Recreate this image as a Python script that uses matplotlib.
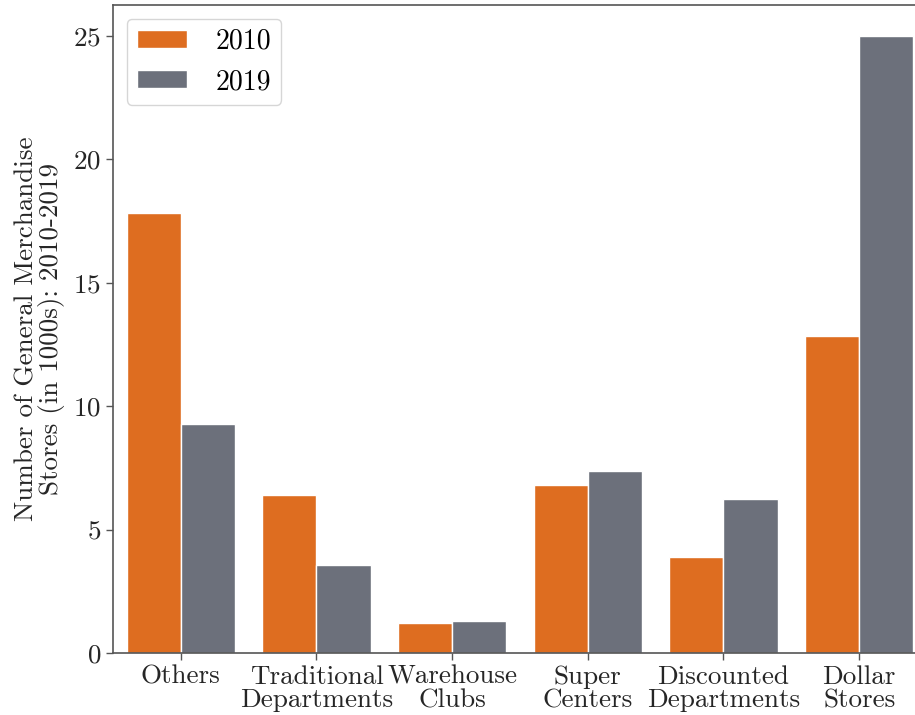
import matplotlib
matplotlib.use("Agg")
import matplotlib.pyplot as plt
import numpy as np

# general merchandise store counts (in 1000s)
categories = ["Others", "Traditional\nDepartments", "Warehouse\nClubs",
              "Super\nCenters", "Discounted\nDepartments", "Dollar\nStores"]
stores_2010 = [17.83, 6.40, 1.22, 6.81, 3.89, 12.84]
stores_2019 = [9.28, 3.57, 1.30, 7.37, 6.24, 25.0]
years = ["2010", "2019"]

plt.rcParams['font.family'] = 'cmr10'
plt.rcParams['axes.formatter.use_mathtext'] = True
plt.rcParams['font.size'] = 20

fig = plt.figure(figsize=(9.15, 7.15), dpi=100)
ax = fig.add_axes([0.1235, 0.0867, 0.8896, 0.9063])

x = np.arange(len(categories))
w = 0.4
ax.bar(x - w / 2, stores_2010, w, color='#de6d20', edgecolor='white',
       linewidth=1, label=years[0])
ax.bar(x + w / 2, stores_2019, w, color='#6c707b', edgecolor='white',
       linewidth=1, label=years[1])

ax.set_xlim(-0.5, 5.5)
ax.set_ylim(0, 26.25)
ax.set_xticks(x)
ax.set_xticklabels(categories, fontsize=19.5, color='#262626', linespacing=1.0)
ax.set_yticks([0, 5, 10, 15, 20, 25])
ax.tick_params(axis='y', labelsize=19.5, colors='#262626')
ax.tick_params(axis='both', color='#555555', length=5, width=1)
for sp in ax.spines.values():
    sp.set_color('#555555')
    sp.set_linewidth(1.2)

ax.set_ylabel("Number of General Merchandise\nStores (in 1000s): 2010-2019",
              fontsize=19.5, color='#262626', linespacing=0.95, labelpad=6)

leg = ax.legend(loc='upper left', fontsize=20, handlelength=1.8,
                handleheight=0.62, borderpad=0.35, labelspacing=0.5,
                handletextpad=1.05, frameon=True, fancybox=True)
leg.get_frame().set_edgecolor('#cccccc')

fig.savefig("out.png", dpi=100)
